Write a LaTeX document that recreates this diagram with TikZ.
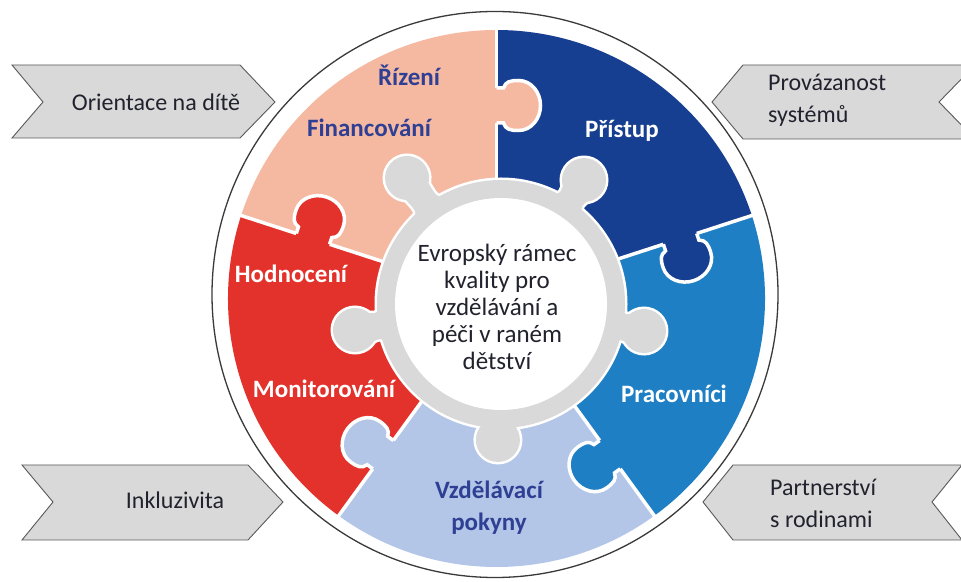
\documentclass[tikz,border=0pt]{standalone}
\usepackage{fontspec}
\setmainfont{Carlito}
\definecolor{pinkp}{HTML}{F5B9A1}
\definecolor{dblue}{HTML}{173F91}
\definecolor{mblue}{HTML}{1F7FC4}
\definecolor{lblue}{HTML}{B3C6E7}
\definecolor{redp}{HTML}{E3322B}
\definecolor{ringgray}{HTML}{D9D9D9}
\definecolor{labelblue}{HTML}{2F3F94}
\definecolor{chevgray}{HTML}{D9D9D9}
\definecolor{chevline}{HTML}{595959}
\definecolor{txtdark}{HTML}{22222E}
\definecolor{outl}{HTML}{3A3A3A}
\newcommand{\tabshape}{(-17.5,0) -- (-17.5,-7) .. controls (-24,-9) and (-25,-14) .. (-25,-22) .. controls (-25,-35) and (-13,-44) .. (0,-44) .. controls (13,-44) and (25,-35) .. (25,-22) .. controls (25,-14) and (24,-9) .. (17.5,-7) -- (17.5,0)}
\begin{document}
\begin{tikzpicture}[x=1pt,y=1pt,
  chev/.style={fill=chevgray, draw=chevline, line width=0.9pt, line join=miter},
  chevtext/.style={text=txtdark, font=\fontsize{24}{32}\selectfont, inner sep=0pt},
  piecelabel/.style={font=\bfseries\fontsize{25}{32}\selectfont, inner sep=0pt},
  onelabel/.style={piecelabel, text height=1.5ex, text depth=0.25ex},
  centertext/.style={text=txtdark, font=\fontsize{25}{27}\selectfont, inner sep=0pt, align=center},
  sep/.style={white, line width=3.5pt},
  halo/.style={white, line width=5pt}
]
\useasboundingbox (0,0) rectangle (961,581);
\fill[white] (0,0) rectangle (961,581);

% chevrons
\draw[chev] (12,516) -- (240,516) -- (275,479) -- (240,443) -- (12,443) -- (43,479) -- cycle;
\draw[chev] (975,516) -- (743,516) -- (712,479) -- (743,442) -- (975,442) -- (939,479) -- cycle;
\draw[chev] (22,116) -- (248,116) -- (283,79) -- (248,41) -- (22,41) -- (53,79) -- cycle;
\draw[chev] (962,116) -- (733,116) -- (703,79) -- (733,41) -- (962,41) -- (932,79) -- cycle;

\node[chevtext] (t1) at (156,479) {Orientace na dítě};
\node[chevtext, anchor=west, align=left] (t2) at (768,480.5) {Provázanost\\systémů};
\node[chevtext] (t3) at (175,81) {Inkluzivita};
\node[chevtext, anchor=west, align=left] (t4) at (770,78) {Partnerství\\s rodinami};

% outer outline
\draw[outl, line width=1.3pt] (495,286.5) circle[radius=283];

% sectors
\coordinate (C) at (496.5,282.5);
\fill[dblue] (C) -- ++(18:268.5) arc[start angle=18,end angle=90,radius=268.5] -- cycle;
\fill[pinkp] (C) -- ++(90:268.5) arc[start angle=90,end angle=162,radius=268.5] -- cycle;
\fill[redp] (C) -- ++(162:268.5) arc[start angle=162,end angle=234,radius=268.5] -- cycle;
\fill[lblue] (C) -- ++(234:268.5) arc[start angle=234,end angle=306,radius=268.5] -- cycle;
\fill[mblue] (C) -- ++(306:268.5) arc[start angle=306,end angle=378,radius=268.5] -- cycle;
\foreach \a in {18,90,162,234,306} \draw[sep] (C) -- ++(\a:272);

% tabs
\foreach \a/\col in {90/pinkp, 18/dblue, 306/mblue, 234/lblue, 162/redp} {
  \begin{scope}[shift={(C)}, rotate=\a, shift={(193,0)}]
    \fill[\col] (-17.5,2.5) -- \tabshape -- (17.5,2.5) -- cycle;
    \draw[sep] \tabshape;
  \end{scope}
}

% gray ring with knobs
\coordinate (Rc) at (501,277);
\foreach \p/\d/\g in {126.7/157.2/33.2, 56.2/149.2/25.2, 190.1/148.3/24.3, -10.7/145.5/21.5, 268.7/136/12} {
  \begin{scope}[shift={(Rc)}, rotate=\p, shift={(\d,0)}]
    \draw[halo] (0,0) circle[radius=22];
    \draw[halo] (-16.9,-14.1) .. controls (-\g-2,-12) .. (-\g-7,-30) -- (-\g-7,30) .. controls (-\g-2,12) .. (-16.9,14.1) -- cycle;
  \end{scope}
}
\draw[halo] (Rc) circle[radius=124];
\foreach \p/\d/\g in {126.7/157.2/33.2, 56.2/149.2/25.2, 190.1/148.3/24.3, -10.7/145.5/21.5, 268.7/136/12} {
  \begin{scope}[shift={(Rc)}, rotate=\p, shift={(\d,0)}]
    \fill[ringgray] (0,0) circle[radius=22];
    \fill[ringgray] (-16.9,-14.1) .. controls (-\g-2,-12) .. (-\g-7,-30) -- (-\g-7,30) .. controls (-\g-2,12) .. (-16.9,14.1) -- cycle;
  \end{scope}
}
\fill[ringgray] (Rc) circle[radius=124];
\fill[white] (Rc) circle[radius=106];

\node[centertext] (center) at (497,274) {Evropský rámec\\kvality pro\\vzdělávání a\\péči v raném\\dětství};

% piece labels
\node[onelabel, text=labelblue] (rizeni) at (409,498) {Řízení};
\node[onelabel, text=labelblue] (fin) at (369,447) {Financování};
\node[onelabel, text=white] (pristup) at (622,446) {Přístup};
\node[onelabel, text=white] (hod) at (291,301) {Hodnocení};
\node[onelabel, text=white] (mon) at (324,186) {Monitorování};
\node[onelabel, text=white] (prac) at (674,181) {Pracovníci};
\node[piecelabel, text=labelblue, align=center] (vzd) at (489,73) {Vzdělávací\\pokyny};
\end{tikzpicture}
\end{document}
